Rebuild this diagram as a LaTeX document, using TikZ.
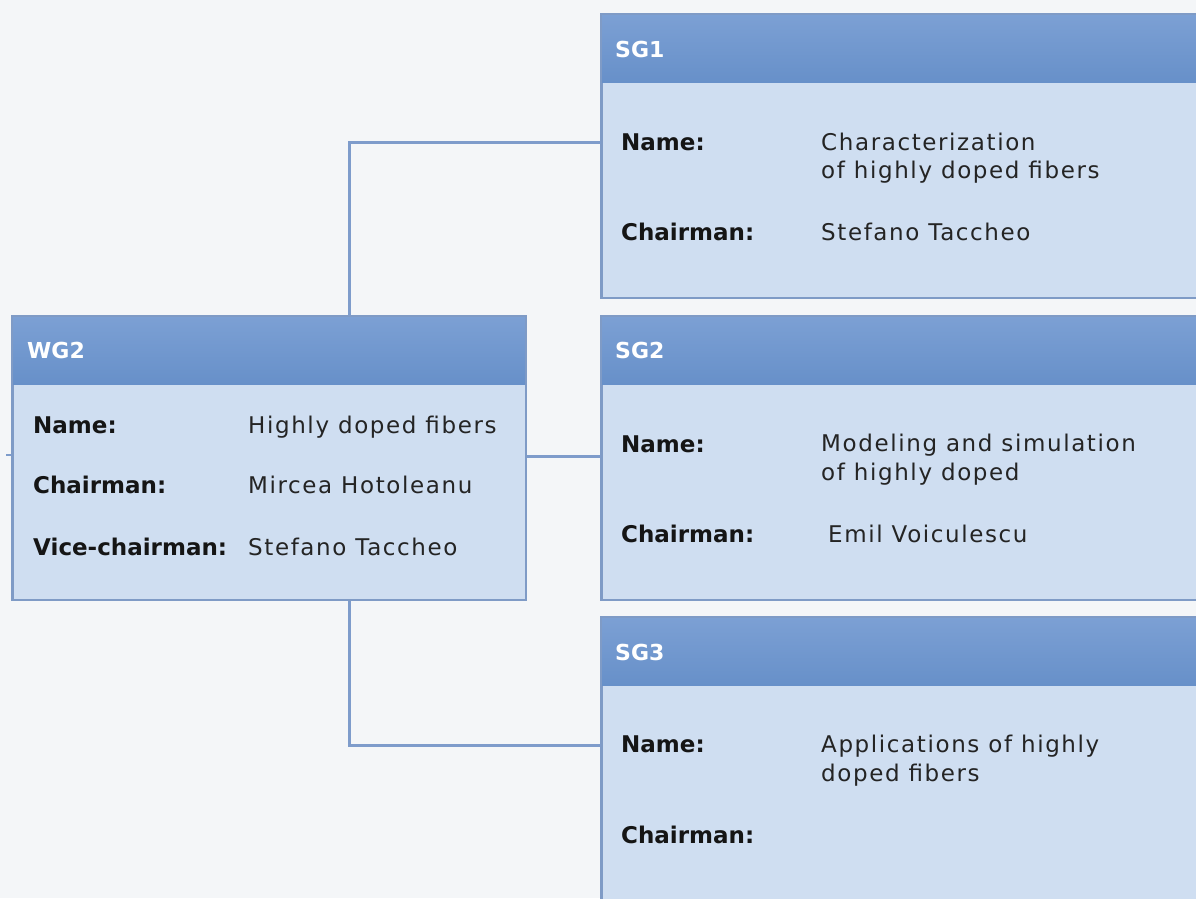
\documentclass[tikz,border=0pt]{standalone}
\usepackage{fontspec}
\newfontfamily\vreg[LetterSpace=7]{DejaVu Sans}
\newfontfamily\vlab{DejaVu Sans}
\definecolor{bg}{HTML}{F4F6F8}
\definecolor{body}{HTML}{CFDEF1}
\definecolor{hdrT}{HTML}{7CA0D4}
\definecolor{hdrB}{HTML}{6790C9}
\definecolor{bord}{HTML}{7F9BC6}
\definecolor{conn}{HTML}{7E9CCB}
\definecolor{txt}{HTML}{151515}
\definecolor{vtxt}{HTML}{242424}
\tikzset{
  box/.style={draw=bord, line width=1.5pt, fill=body, rectangle, inner sep=0pt, anchor=north west},
  hdr/.style={rectangle, inner sep=0pt, anchor=north west, top color=hdrT, bottom color=hdrB, draw=none},
  outline/.style={draw=bord, line width=1.5pt},
  title/.style={anchor=base west, inner sep=0pt, text=white, font=\vlab\bfseries\fontsize{22}{26}\selectfont},
  lab/.style={anchor=base west, inner sep=0pt, text=txt, font=\vlab\bfseries\fontsize{23}{28}\selectfont},
  val/.style={anchor=base west, inner sep=0pt, text=vtxt, font=\vreg\fontsize{23}{28}\selectfont},
  connector/.style={draw=conn, line width=3pt}
}
\begin{document}
\begin{tikzpicture}[x=1pt, y=-1pt]
\clip (0,0) rectangle (1196,898);
\fill[bg] (0,0) rectangle (1196,898);

% boxes
\node[box, minimum width=513, minimum height=283] (wg2) at (12,316) {};
\node[box, minimum width=620, minimum height=283] (sg1) at (601,14) {};
\node[box, minimum width=620, minimum height=283] (sg2) at (601,316) {};
\node[box, minimum width=620, minimum height=283] (sg3) at (601,617) {};

% headers
\node[hdr, minimum width=513, minimum height=68] (wg2h) at (wg2.north west) {};
\node[hdr, minimum width=620, minimum height=68] (sg1h) at (sg1.north west) {};
\node[hdr, minimum width=620, minimum height=68] (sg2h) at (sg2.north west) {};
\node[hdr, minimum width=620, minimum height=68] (sg3h) at (sg3.north west) {};
\foreach \b in {wg2,sg1,sg2,sg3}{
  \draw[outline] (\b.north west) rectangle (\b.south east);
}

% connectors
\coordinate (jx) at (349,142);
\coordinate (j3) at (349,745);
\draw[connector] (wg2.north -| jx) |- (sg1.west |- jx);
\draw[connector] (wg2.east |- 0,456) -- (sg2.west |- 0,456);
\draw[connector] (wg2.south -| j3) |- (sg3.west |- j3);
\coordinate (stub) at (6,455);
\draw[connector, line width=2pt] (stub) -- (wg2.west |- stub);

% titles
\node[title] (t1) at (27,358) {WG2};
\node[title] (t2) at (615,57) {SG1};
\node[title] (t3) at (615,358) {SG2};
\node[title] (t4) at (615,660) {SG3};

% WG2 contents
\node[lab] (w1) at (33,433) {Name:};
\node[val] (w1v) at (248,433) {Highly doped fibers};
\node[lab] (w2) at (33,493) {Chairman:};
\node[val] (w2v) at (248,493) {Mircea Hotoleanu};
\node[lab] (w3) at (33,555) {Vice-chairman:};
\node[val] (w3v) at (248,555) {Stefano Taccheo};

% SG1 contents
\node[lab] (a1) at (621,150) {Name:};
\node[val] (a1v) at (821,150) {Characterization};
\node[val] (a1w) at (821,178) {of highly doped fibers};
\node[lab] (a2) at (621,240) {Chairman:};
\node[val] (a2v) at (821,240) {Stefano Taccheo};

% SG2 contents
\node[lab] (b1) at (621,452) {Name:};
\node[val] (b1v) at (821,451) {Modeling and simulation};
\node[val] (b1w) at (821,480) {of highly doped};
\node[lab] (b2) at (621,542) {Chairman:};
\node[val] (b2v) at (828,542) {Emil Voiculescu};

% SG3 contents
\node[lab] (c1) at (621,752) {Name:};
\node[val] (c1v) at (821,752) {Applications of highly};
\node[val] (c1w) at (821,781) {doped fibers};
\node[lab] (c2) at (621,843) {Chairman:};
\end{tikzpicture}
\end{document}
